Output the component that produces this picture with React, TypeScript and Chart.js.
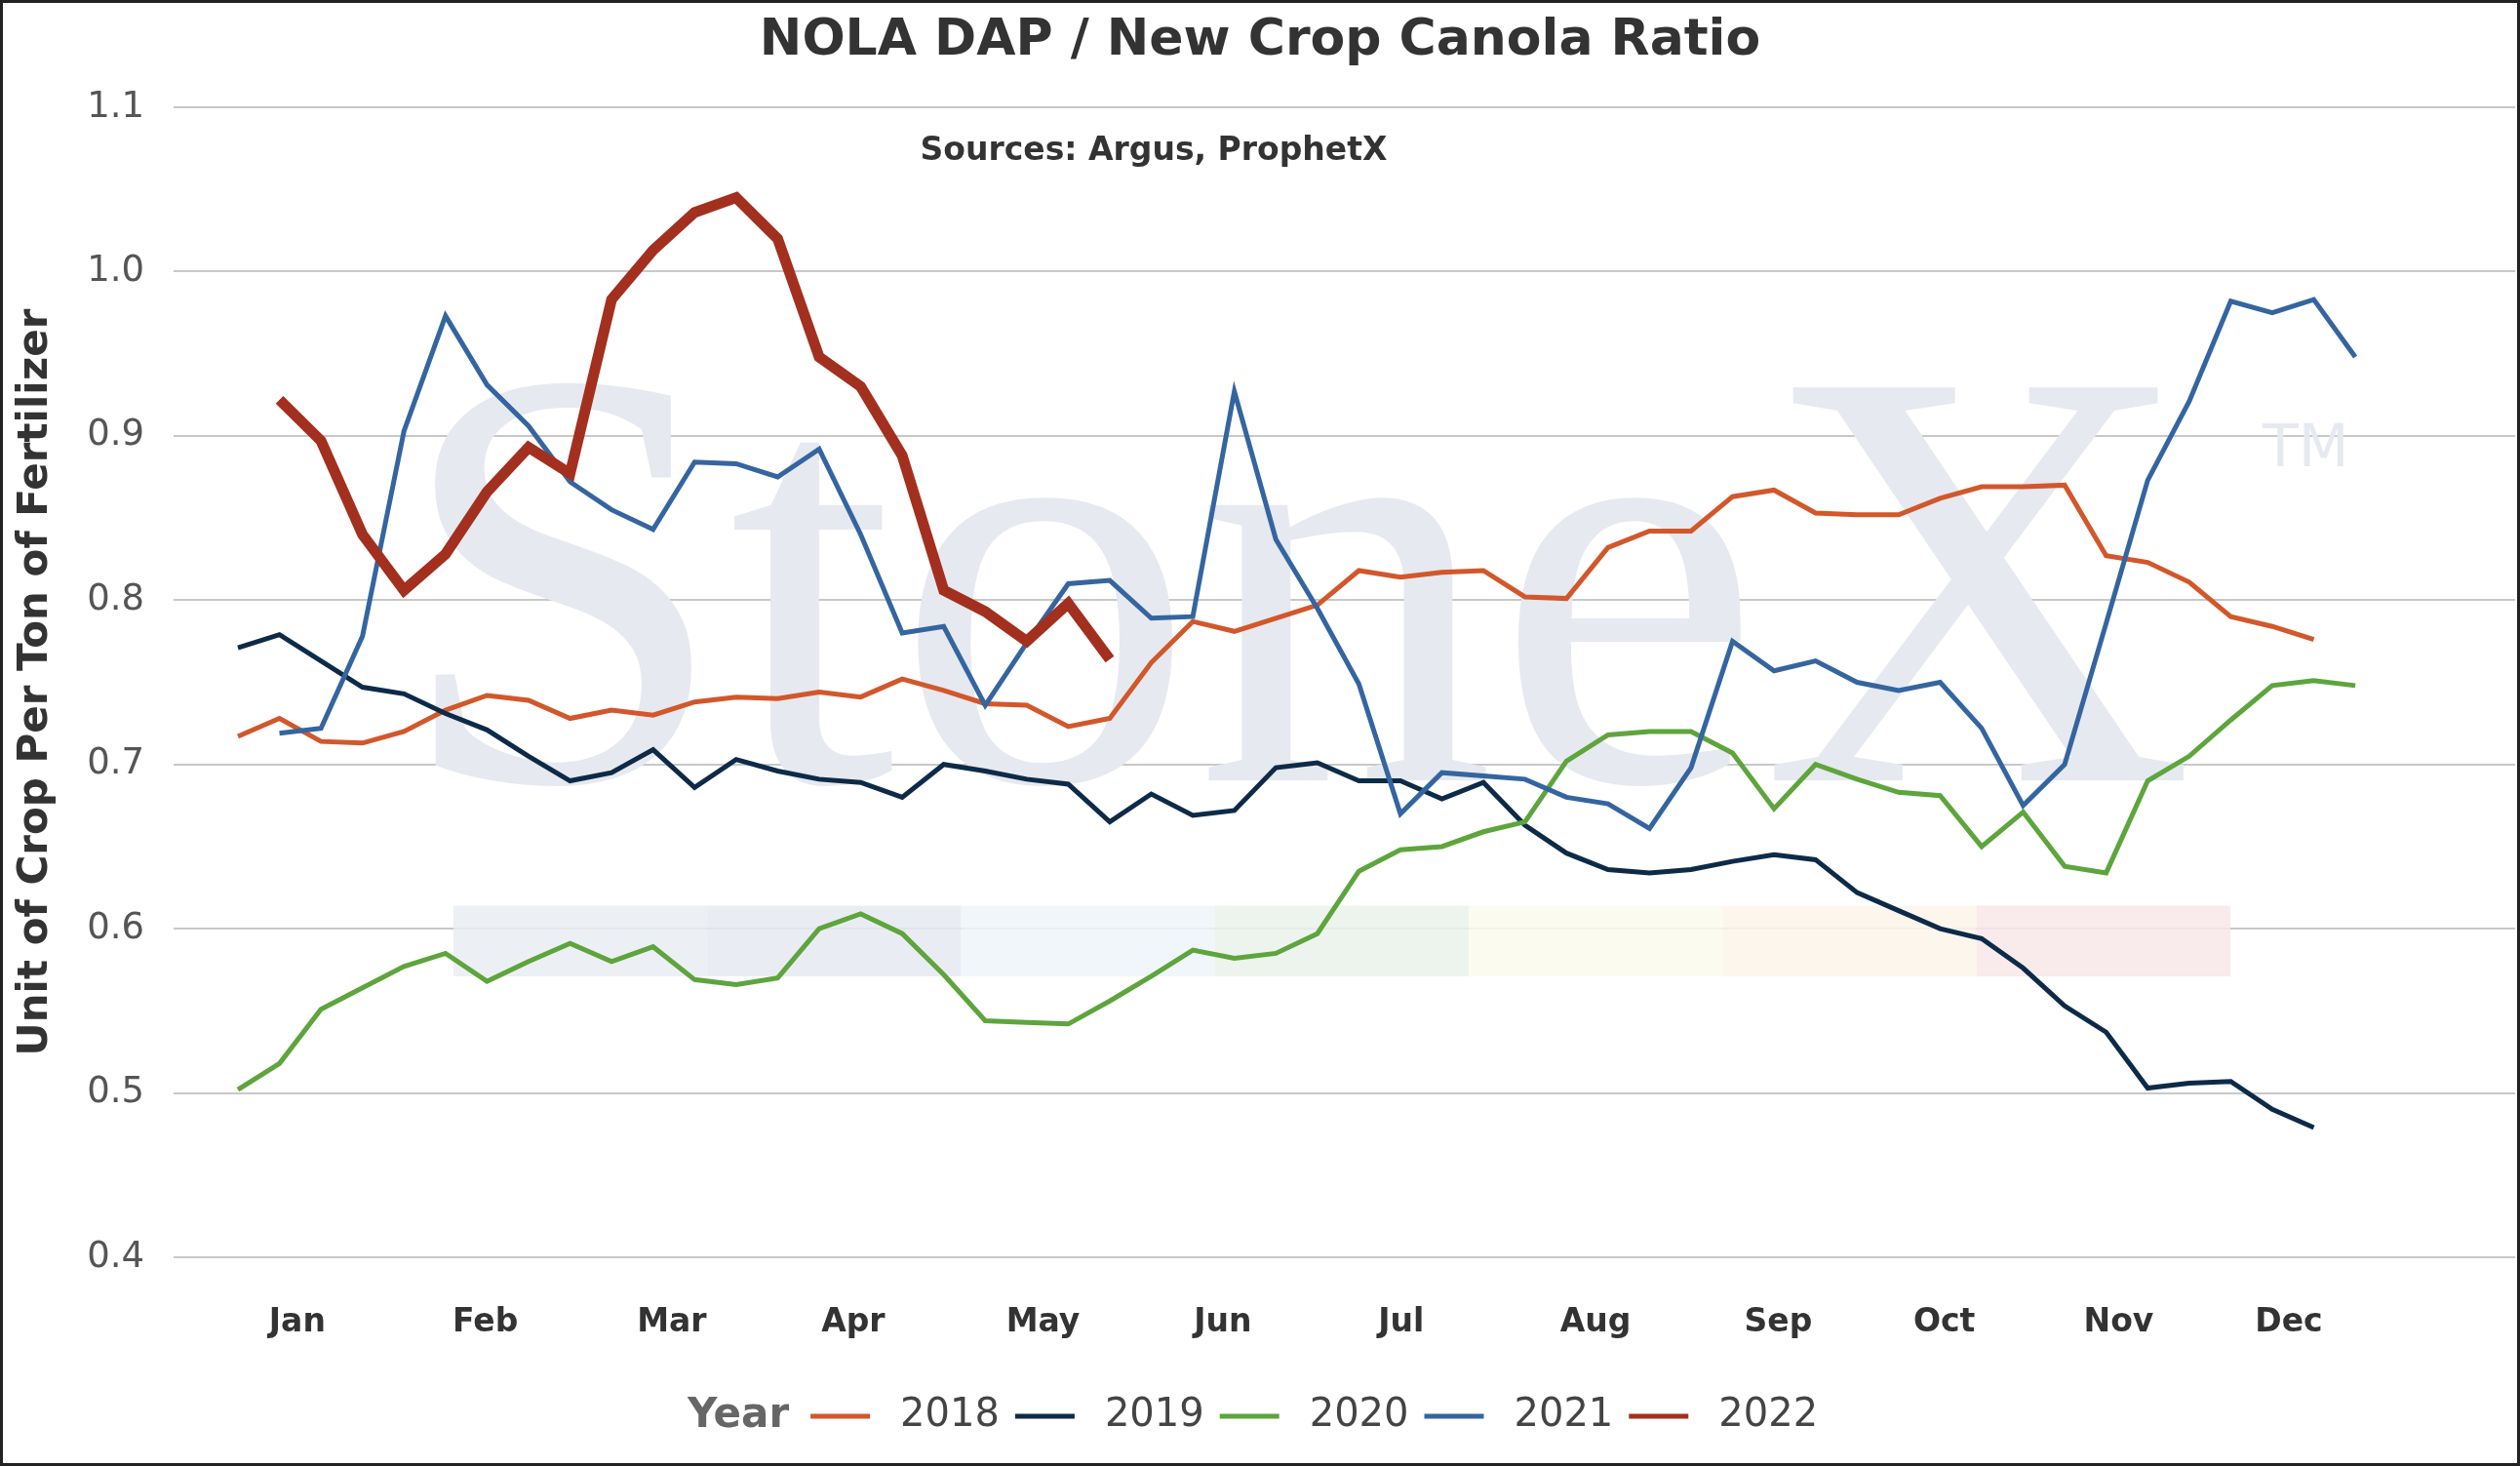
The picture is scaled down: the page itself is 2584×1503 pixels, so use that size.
import React, { useEffect, useRef } from "react";
import { Chart, registerables } from "chart.js";
Chart.register(...registerables);

const monthLabels = ["Jan","Feb","Mar","Apr","May","Jun","Jul","Aug","Sep","Oct","Nov","Dec"];
const monthPos = [1.43,5.96,10.45,14.82,19.39,23.72,28.02,32.7,37.1,41.1,45.3,49.4];
const yearLabels = ["2018","2019","2020","2021","2022"];
const colors = ["#D2572A","#0D2B48","#5DA53C","#3465A0","#A3301F"];
const s2018 = [0.717,0.728,0.714,0.713,0.72,0.733,0.742,0.739,0.728,0.733,0.730,0.738,0.741,0.740,0.744,0.741,0.752,0.745,0.737,0.736,0.723,0.728,0.762,0.787,0.781,0.789,0.797,0.818,0.814,0.817,0.818,0.802,0.801,0.832,0.842,0.842,0.863,0.867,0.853,0.852,0.852,0.862,0.869,0.869,0.870,0.827,0.823,0.811,0.790,0.784,0.776];
const s2019 = [0.771,0.779,0.763,0.747,0.743,0.731,0.721,0.705,0.690,0.695,0.709,0.686,0.703,0.696,0.691,0.689,0.680,0.700,0.696,0.691,0.688,0.665,0.682,0.669,0.672,0.698,0.701,0.690,0.690,0.679,0.689,0.663,0.646,0.636,0.634,0.636,0.641,0.645,0.642,0.622,0.611,0.600,0.594,0.576,0.553,0.537,0.503,0.506,0.507,0.490,0.479];
const s2020 = [0.502,0.518,0.551,0.564,0.577,0.585,0.568,0.580,0.591,0.580,0.589,0.569,0.566,0.570,0.600,0.609,0.597,0.572,0.544,0.543,0.542,0.556,0.571,0.587,0.582,0.585,0.597,0.635,0.648,0.650,0.659,0.665,0.702,0.718,0.720,0.720,0.707,0.673,0.700,0.691,0.683,0.681,0.650,0.671,0.638,0.634,0.690,0.705,0.727,0.748,0.751,0.748];
const s2021 = [0.719,0.722,0.778,0.903,0.973,0.931,0.906,0.872,0.855,0.843,0.884,0.883,0.875,0.892,0.840,0.780,0.784,0.736,0.774,0.810,0.812,0.789,0.790,0.927,0.837,0.795,0.749,0.670,0.695,0.693,0.691,0.680,0.676,0.661,0.698,0.775,0.757,0.763,0.750,0.745,0.750,0.722,0.675,0.700,0.786,0.873,0.921,0.982,0.975,0.983,0.948];
const s2022 = [0.922,0.897,0.840,0.806,0.828,0.866,0.893,0.877,0.983,1.013,1.036,1.045,1.020,0.948,0.930,0.888,0.806,0.793,0.775,0.798,0.764];
const series = [s2018, s2019, s2020, s2021, s2022];
const startIdx = [0, 0, 0, 1, 1];
const bandColors = ["#E9EDF3","#E6E9F2","#EEF4F9","#EAF2EA","#FAFAEC","#FDF5EA","#F8E6E8"];
const FONT = "'DejaVu Sans', Verdana, sans-serif";

export default function App() {
  const ref = useRef<HTMLCanvasElement>(null);
  useEffect(() => {
    const deco = {
      id: "deco",
      beforeDatasetsDraw(c: any) {
        const { ctx } = c; const x = c.scales.x, y = c.scales.y;
        ctx.save();
        ctx.fillStyle = "#E6E9EF";
        ctx.font = "615px 'Liberation Serif', serif";
        ctx.textBaseline = "alphabetic";
        ctx.fillText("StoneX", 405, 800);
        ctx.font = "60px 'DejaVu Sans', sans-serif";
        ctx.fillText("TM", 2320, 478);
        const x0 = x.getPixelForValue(5.19), x1 = x.getPixelForValue(47.99);
        const w = (x1 - x0) / 7;
        const yt = y.getPixelForValue(0.614), yb = y.getPixelForValue(0.571);
        bandColors.forEach((col, i) => { ctx.fillStyle = col; ctx.globalAlpha = 0.85; ctx.fillRect(x0 + i * w, yt, w, yb - yt); });
        ctx.restore();
      },
      afterDraw(c: any) {
        const { ctx } = c;
        ctx.save();
        ctx.fillStyle = "#333"; ctx.textAlign = "center"; ctx.textBaseline = "middle";
        ctx.font = `bold 52px ${FONT}`;
        ctx.fillText("NOLA DAP / New Crop Canola Ratio", 1292, 42);
        ctx.font = `bold 33px ${FONT}`;
        ctx.fillText("Sources: Argus, ProphetX", 1183, 155);
        ctx.textAlign = "left";
        ctx.font = `bold 42px ${FONT}`;
        ctx.fillStyle = "#666";
        let px = 705; const ly = 1452;
        ctx.fillText("Year", px, ly);
        px += ctx.measureText("Year").width + 22;
        ctx.font = `40px ${FONT}`;
        yearLabels.forEach((l, i) => {
          ctx.strokeStyle = colors[i]; ctx.lineWidth = 5;
          ctx.beginPath(); ctx.moveTo(px, ly); ctx.lineTo(px + 61, ly); ctx.stroke();
          px += 92; ctx.fillStyle = "#444"; ctx.fillText(l, px, ly);
          px += ctx.measureText(l).width + 16;
        });
        ctx.strokeStyle = "#222"; ctx.lineWidth = 3;
        ctx.strokeRect(1.5, 1.5, c.width - 3, c.height - 3);
        ctx.restore();
      },
    };
    const chart = new Chart(ref.current!, {
      type: "line",
      data: {
        datasets: series.map((s, k) => ({
          label: yearLabels[k],
          data: s.map((v, i) => ({ x: i + startIdx[k], y: v })),
          borderColor: colors[k],
          borderWidth: k === 4 ? 11 : 5,
          pointRadius: 0,
          tension: 0,
          order: k === 4 ? 0 : 5 - k,
        })),
      },
      options: {
        animation: false, responsive: false, devicePixelRatio: 1,
        layout: { padding: { top: 110, right: 5, left: 12, bottom: 0 } },
        plugins: { legend: { display: false }, tooltip: { enabled: false } },
        scales: {
          x: {
            type: "linear", min: -1.55, max: 54.85,
            afterBuildTicks: (s: any) => { s.ticks = monthPos.map((v) => ({ value: v })); },
            afterFit: (s: any) => { s.height = 214; },
            grid: { display: false }, border: { display: false },
            ticks: {
              autoSkip: false, maxRotation: 0, padding: 40,
              font: { family: FONT, size: 33, weight: "bold" }, color: "#333",
              callback: (v: any, i: number) => monthLabels[i],
            },
          },
          y: {
            min: 0.4, max: 1.1,
            afterFit: (s: any) => { s.width = 166; },
            grid: { color: "#C8C8C8", lineWidth: 2, drawTicks: false },
            border: { display: false },
            ticks: { stepSize: 0.1, padding: 30, font: { family: FONT, size: 37 }, color: "#555", callback: (v: any) => Number(v).toFixed(1) },
            title: { display: true, text: "Unit of Crop Per Ton of Fertilizer", font: { family: FONT, size: 42, weight: "bold" }, color: "#333", padding: 0 },
          },
        },
      },
      plugins: [deco],
    } as any);
    return () => chart.destroy();
  }, []);
  return (
    <div style={{ position: "absolute", left: 0, top: 0, width: 2584, height: 1503, background: "#fff" }}>
      <canvas ref={ref} width={2584} height={1503} style={{ width: 2584, height: 1503 }} />
    </div>
  );
}
